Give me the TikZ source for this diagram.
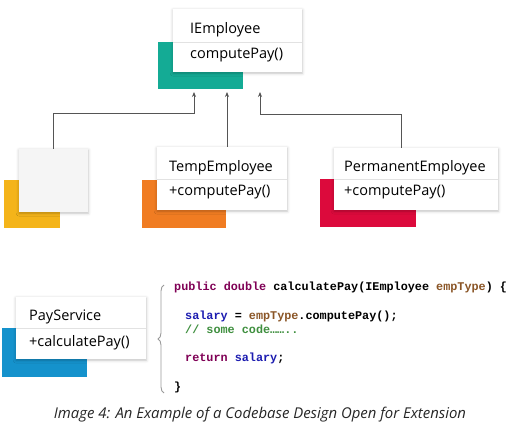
\documentclass[tikz,border=0pt]{standalone}
\usepackage{fontspec}
\setmainfont{Open Sans}
\newfontfamily\codefont{Liberation Mono}
\usetikzlibrary{shadows.blur,decorations.pathreplacing,arrows.meta}
\definecolor{cteal}{HTML}{14AB95}
\definecolor{cyellow}{HTML}{F4B41A}
\definecolor{corange}{HTML}{F07C22}
\definecolor{cred}{HTML}{DC0A3C}
\definecolor{cblue}{HTML}{1592CC}
\definecolor{kw}{HTML}{7F0055}
\definecolor{fld}{HTML}{1C1CB0}
\definecolor{par}{HTML}{8A5526}
\definecolor{cmt}{HTML}{3F8F3F}
\definecolor{conn}{HTML}{555555}
\definecolor{divc}{HTML}{E2E2E2}
\tikzset{
  accent/.style={draw=none, inner sep=0, anchor=north west},
  classbox/.style={fill=white, draw=none, inner sep=0, anchor=north west,
    blur shadow={shadow xshift=0pt, shadow yshift=-1pt, shadow blur radius=3pt, shadow opacity=25}},
  blankbox/.style={classbox, fill=black!4},
  lbl/.style={anchor=base west, inner sep=0, font=\fontsize{14.5}{16}\selectfont, text=black},
  code/.style={anchor=base west, inner sep=0, font=\codefont\bfseries\fontsize{11.8}{14}\selectfont},
  divline/.style={draw=divc, line width=0.8pt},
  arr/.style={draw=conn, line width=0.8pt, -{Stealth[length=5pt,width=4pt]}},
  bracestyle/.style={draw=black!40, line width=0.9pt, decorate, decoration={brace, amplitude=6pt}},
}
\begin{document}
\begin{tikzpicture}[x=1pt, y=-1pt]
\useasboundingbox (0,0) rectangle (520,430);
% accent rectangles
\node[accent, fill=cteal, minimum width=85pt, minimum height=47pt] (teal) at (158,42) {};
\node[accent, fill=cyellow, minimum width=56pt, minimum height=48pt] (yel) at (4,180) {};
\node[accent, fill=corange, minimum width=84pt, minimum height=48pt] (ora) at (142,180) {};
\node[accent, fill=cred, minimum width=96pt, minimum height=48pt] (red) at (320,179) {};
\node[accent, fill=cblue, minimum width=85pt, minimum height=49pt] (blu) at (2,328) {};
% class boxes
\node[classbox, minimum width=129pt, minimum height=63pt] (iemp) at (173,9) {};
\node[blankbox, minimum width=69pt, minimum height=63pt] (blank) at (19,149) {};
\node[classbox, minimum width=130pt, minimum height=63pt] (temp) at (157,147) {};
\node[classbox, minimum width=164pt, minimum height=62pt] (perm) at (334,148) {};
\node[classbox, minimum width=130pt, minimum height=62pt] (pay) at (16,297) {};
% dividers
\draw[divline] (iemp.west |- 0,42) -- (iemp.east |- 0,42);
\draw[divline] (temp.west |- 0,179) -- (temp.east |- 0,179);
\draw[divline] (perm.west |- 0,179) -- (perm.east |- 0,179);
\draw[divline] (pay.west |- 0,328) -- (pay.east |- 0,328);
% labels
\node[lbl] (t1a) at (190,34) {IEmployee};
\node[lbl] (t1b) at (190,59) {computePay()};
\node[lbl] (t2a) at (169,172) {TempEmployee};
\node[lbl] (t2b) at (169,196) {+computePay()};
\node[lbl] (t3a) at (344,172) {PermanentEmployee};
\node[lbl] (t3b) at (344,196) {+computePay()};
\node[lbl] (t4a) at (29,321) {PayService};
\node[lbl] (t4b) at (29,347) {+calculatePay()};
% connector end points
\coordinate (e1) at (194,92);
\coordinate (e2) at (227,92);
\coordinate (e3) at (260,92);
\draw[arr] (blank.north -| 53,0) |- (194,113) -- (e1);
\draw[arr] (temp.north -| e2) -- (e2);
\draw[arr] (perm.north -| 401,0) |- (260,114) -- (e3);
% code
\node[code] (c1) at (174,291) {\textcolor{kw}{public double} calculatePay(IEmployee \textcolor{par}{empType}) \{};
\node[code] (c2) at (185,320) {\textcolor{fld}{salary} = \textcolor{par}{empType}.computePay();};
\node[code] (c3) at (185,334) {\textcolor{cmt}{// some code……..}};
\node[code] (c4) at (185,362) {\textcolor{kw}{return} \textcolor{fld}{salary};};
\node[code] (c5) at (174,391) {\}};
\coordinate (bb) at (164,393);
\coordinate (bt) at (164,285);
\draw[bracestyle] (bb) -- (bt);
% caption
\node[anchor=center, inner sep=0, font=\itshape\fontsize{14.9}{17}\selectfont, text=black!85] (cap) at (260,415) {Image 4: An Example of a Codebase Design Open for Extension};
\end{tikzpicture}
\end{document}
